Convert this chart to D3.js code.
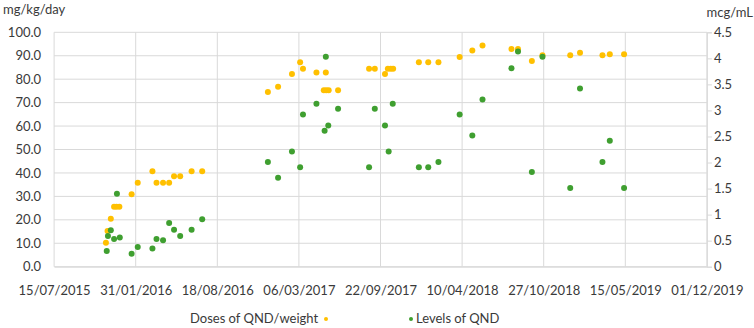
<!DOCTYPE html>
<html><head><meta charset="utf-8">
<script src="https://cdn.jsdelivr.net/npm/d3@7"></script>
<style>body{margin:0;background:#fff}svg{display:block}text{font-family:Lato,"Open Sans",sans-serif;fill:#3a3a3a}</style>
</head><body><svg id="c" width="754" height="328"></svg>
<script>
// Doses of QND/weight (mg/kg/day, left axis)
const doseDates = ["2015-11-19","2015-11-23","2015-12-01","2015-12-09","2015-12-15","2015-12-22","2016-01-21","2016-02-05","2016-03-12","2016-03-22","2016-04-07","2016-04-22","2016-05-04","2016-05-19","2016-06-16","2016-07-12",
"2016-12-20","2017-01-14","2017-02-17","2017-03-09","2017-03-16","2017-04-18","2017-05-11","2017-05-06","2017-05-12","2017-05-18","2017-06-10","2017-08-25","2017-09-08","2017-10-03","2017-10-10","2017-10-17","2017-10-23","2017-12-25","2018-01-17","2018-02-11","2018-04-04","2018-05-05","2018-05-30",
"2018-08-09","2018-08-25","2018-09-28","2018-10-24","2018-12-31","2019-01-24","2019-03-20","2019-04-07","2019-05-12"];
const doseValues = [10.2,15.2,20.5,25.6,25.6,25.6,30.9,35.8,40.7,35.8,35.8,35.8,38.6,38.6,40.7,40.7,
74.5,76.8,82.2,87.2,84.5,82.9,82.9,75.3,75.3,75.3,75.3,84.5,84.5,82.2,84.5,84.5,84.5,87.2,87.2,87.2,89.5,92.2,94.4,
92.9,92.9,87.8,90.2,90.2,91.3,90.2,90.6,90.6];
// Levels of QND (mcg/mL, right axis)
const levelDates = ["2015-11-21","2015-11-24","2015-12-01","2015-12-16","2015-12-09","2015-12-23","2016-01-21","2016-02-05","2016-03-12","2016-03-22","2016-04-07","2016-04-22","2016-05-04","2016-05-19","2016-06-16","2016-07-12",
"2016-12-20","2017-01-14","2017-02-17","2017-03-09","2017-03-16","2017-04-18","2017-05-11","2017-05-08","2017-05-17","2017-06-10","2017-08-25","2017-09-08","2017-10-03","2017-10-12","2017-10-22","2017-12-25","2018-01-17","2018-02-11","2018-04-04","2018-05-05","2018-05-30",
"2018-08-09","2018-08-25","2018-09-28","2018-10-24","2018-12-31","2019-01-24","2019-03-20","2019-04-07","2019-05-12"];
const levelValues = [0.30,0.59,0.70,1.40,0.53,0.56,0.25,0.38,0.35,0.53,0.51,0.84,0.71,0.59,0.71,0.91,
2.01,1.71,2.21,1.91,2.92,3.13,4.03,2.61,2.71,3.03,1.91,3.03,2.71,2.21,3.13,1.91,1.91,2.01,2.92,2.52,3.21,
3.81,4.13,1.82,4.03,1.51,3.42,2.01,2.42,1.51];
const xTickLabels = ["15/07/2015","31/01/2016","18/08/2016","06/03/2017","22/09/2017","10/04/2018","27/10/2018","15/05/2019","01/12/2019"];
const leftTicks = [0,10,20,30,40,50,60,70,80,90,100];
const rightTicks = [0,0.5,1,1.5,2,2.5,3,3.5,4,4.5];
const seriesNames = ["Doses of QND/weight","Levels of QND"];
const axisTitles = ["mg/kg/day","mcg/mL"];

const parse = d3.utcParse("%Y-%m-%d");
const parseTick = d3.utcParse("%d/%m/%Y");
const svg = d3.select("#c");
const L = 54.1, R = 706.9, T = 32.3, B = 266.7;
const tickDates = xTickLabels.map(parseTick);
const x = d3.scaleUtc().domain([tickDates[0], tickDates[tickDates.length-1]]).range([L, R]);
const yL = d3.scaleLinear().domain([0,100]).range([B, T]);
const yR = d3.scaleLinear().domain([0,4.5]).range([B, T]);
const grid = "#d9d9d9";

// horizontal gridlines
svg.append("g").selectAll("line").data(leftTicks).join("line")
  .attr("x1", L).attr("x2", R).attr("y1", d=>yL(d)).attr("y2", d=>yL(d))
  .attr("stroke", grid).attr("stroke-width", 1);
// vertical gridlines
svg.append("g").selectAll("line").data(tickDates).join("line")
  .attr("x1", d=>x(d)).attr("x2", d=>x(d)).attr("y1", T).attr("y2", B)
  .attr("stroke", grid).attr("stroke-width", 1);

// left axis
const gl = svg.append("g").attr("transform", `translate(${L},0)`)
  .call(d3.axisLeft(yL).tickValues(leftTicks).tickFormat(d3.format(".1f")).tickSize(0).tickPadding(13));
gl.select(".domain").remove();
gl.selectAll("text").style("font-size","13px").style("font-family","Lato").attr("fill","#3a3a3a");
// right axis
const gr = svg.append("g").attr("transform", `translate(${R},0)`)
  .call(d3.axisRight(yR).tickValues(rightTicks).tickFormat(d=>String(d)).tickSize(5).tickPadding(2));
gr.select(".domain").attr("stroke", grid);
gr.selectAll(".tick line").attr("stroke", grid);
gr.selectAll("text").style("font-size","13px").style("font-family","Lato").attr("fill","#3a3a3a");
// bottom axis
const gb = svg.append("g").attr("transform", `translate(0,${B})`)
  .call(d3.axisBottom(x).tickValues(tickDates).tickFormat((d,i)=>xTickLabels[i]).tickSize(0).tickPadding(19));
gb.select(".domain").attr("stroke", grid);
gb.selectAll("text").style("font-size","13px").style("font-family","Lato").attr("fill","#3a3a3a");

// axis titles
svg.append("text").attr("x", 3).attr("y", 14).style("font-size","13px").text(axisTitles[0]);
svg.append("text").attr("x", 753).attr("y", 17).attr("text-anchor","end").style("font-size","13px").text(axisTitles[1]);

const orange = "#FFC000", green = "#3F9F30";
// points
svg.append("g").selectAll("circle").data(doseDates.map((d,i)=>({d:parse(d), v:doseValues[i]}))).join("circle")
  .attr("cx", p=>x(p.d)).attr("cy", p=>yL(p.v)).attr("r", 3).attr("fill", orange);
svg.append("g").selectAll("circle").data(levelDates.map((d,i)=>({d:parse(d), v:levelValues[i]}))).join("circle")
  .attr("cx", p=>x(p.d)).attr("cy", p=>yR(p.v)).attr("r", 3).attr("fill", green);

// legend
const lg = svg.append("g").style("font-size","13px");
lg.append("text").attr("x", 190).attr("y", 323).text(seriesNames[0]);
lg.append("circle").attr("cx", 326).attr("cy", 319).attr("r", 2).attr("fill", orange);
lg.append("circle").attr("cx", 411).attr("cy", 319).attr("r", 2).attr("fill", green);
lg.append("text").attr("x", 416).attr("y", 323).text(seriesNames[1]);
</script></body></html>
